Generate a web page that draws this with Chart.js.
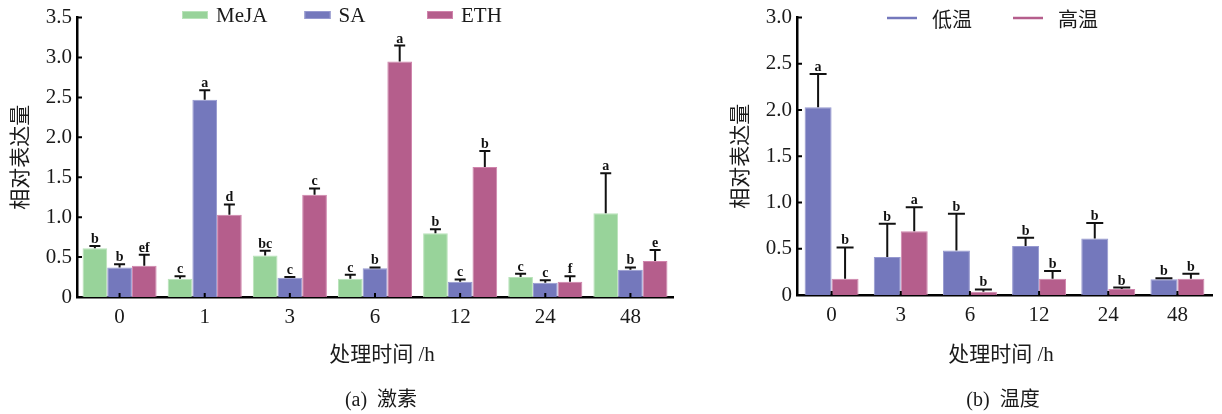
<!DOCTYPE html>
<html>
<head>
<meta charset="utf-8">
<script src="https://cdn.jsdelivr.net/npm/chart.js@4.4.1/dist/chart.umd.min.js"></script>
<style>
  body { margin: 0; background: #fff; width: 1222px; height: 414px; position: relative; overflow: hidden; }
  .panel { position: absolute; top: 0; height: 414px; }
  .txt { position: absolute; transform: translateX(-50%); white-space: pre; color: #1a1a1a;
         font-family: "Liberation Serif", "Noto Sans CJK SC", serif; font-size: 20px; line-height: 1; }
  .txt .cjk { font-family: "Noto Sans CJK SC", sans-serif; }
  .xt { font-size: 21px; top: 342px; }
  .sub { top: 388px; }
</style>
</head>
<body>
<div class="panel" style="left:0;width:700px"><canvas id="hormone"></canvas></div>
<div class="panel" style="left:720px;width:502px"><canvas id="temperature"></canvas></div>

<div class="txt xt" style="left:382px"><span class="cjk">处理时间</span> /h</div>
<div class="txt sub" style="left:381px">(a)  <span class="cjk">激素</span></div>
<div class="txt xt" style="left:1001px"><span class="cjk">处理时间</span> /h</div>
<div class="txt sub" style="left:1003px">(b)  <span class="cjk">温度</span></div>

<script>
// (a) 激素处理
const hormoneHours = ['0', '1', '3', '6', '12', '24', '48'];
const mejaMean = [0.61, 0.23, 0.52, 0.23, 0.80, 0.25, 1.05];
const mejaErr  = [0.03, 0.03, 0.06, 0.05, 0.05, 0.04, 0.50];
const mejaSig  = ['b', 'c', 'bc', 'c', 'b', 'c', 'a'];
const saMean = [0.37, 2.47, 0.24, 0.36, 0.19, 0.18, 0.34];
const saErr  = [0.04, 0.12, 0.01, 0.01, 0.03, 0.03, 0.03];
const saSig  = ['b', 'a', 'c', 'b', 'c', 'c', 'b'];
const ethMean = [0.39, 1.03, 1.28, 2.95, 1.63, 0.19, 0.45];
const ethErr  = [0.14, 0.13, 0.08, 0.20, 0.20, 0.07, 0.14];
const ethSig  = ['ef', 'd', 'c', 'a', 'b', 'f', 'e'];

// (b) 温度处理
const tempHours = ['0', '3', '6', '12', '24', '48'];
const lowMean = [2.03, 0.41, 0.48, 0.53, 0.61, 0.17];
const lowErr  = [0.36, 0.36, 0.40, 0.09, 0.17, 0.01];
const lowSig  = ['a', 'b', 'b', 'b', 'b', 'b'];
const highMean = [0.175, 0.69, 0.035, 0.175, 0.065, 0.175];
const highErr  = [0.34, 0.26, 0.025, 0.085, 0.015, 0.055];
const highSig  = ['b', 'a', 'b', 'b', 'b', 'b'];

const GREEN = '#98d39a', BLUE = '#7478bc', PINK = '#b55e8c';
const SERIF = '"Liberation Serif", "Times New Roman", serif';
const CJK = '"Noto Sans CJK SC", sans-serif';

// 误差线（仅上半）+ 显著性字母
const errorBars = {
  id: 'errorBars',
  afterDatasetsDraw(chart, args, opts) {
    const { ctx } = chart;
    const y = chart.scales.y;
    ctx.save();
    chart.data.datasets.forEach((ds, i) => {
      const meta = chart.getDatasetMeta(i);
      meta.data.forEach((bar, j) => {
        const top = y.getPixelForValue(ds.data[j] + ds.errors[j]);
        ctx.strokeStyle = '#111';
        ctx.lineWidth = 2;
        ctx.beginPath();
        ctx.moveTo(bar.x, bar.y);
        ctx.lineTo(bar.x, top);
        ctx.moveTo(bar.x - opts.cap / 2, top);
        ctx.lineTo(bar.x + opts.cap / 2, top);
        ctx.stroke();
        ctx.fillStyle = '#111';
        ctx.font = 'bold 14px ' + SERIF;
        ctx.textAlign = 'center';
        ctx.textBaseline = 'alphabetic';
        ctx.fillText(ds.letters[j], bar.x, top - 3);
      });
    });
    ctx.restore();
  }
};

// 刻度线朝内
const innerTicks = {
  id: 'innerTicks',
  afterDraw(chart) {
    const { ctx } = chart;
    const { x, y } = chart.scales;
    ctx.save();
    ctx.strokeStyle = '#000';
    ctx.lineWidth = 2;
    ctx.beginPath();
    y.ticks.forEach(t => {
      const py = y.getPixelForValue(t.value);
      ctx.moveTo(y.right, py);
      ctx.lineTo(y.right + 5, py);
    });
    x.ticks.forEach((t, i) => {
      const px = x.getPixelForTick(i);
      ctx.moveTo(px, x.top);
      ctx.lineTo(px, x.top - 4);
    });
    ctx.stroke();
    ctx.restore();
  }
};

// 图例画在绘图区上方
const topLegend = {
  id: 'topLegend',
  afterDraw(chart, args, opts) {
    const { ctx } = chart;
    ctx.save();
    chart.data.datasets.forEach((ds, i) => {
      const x0 = opts.x + i * opts.step;
      if (opts.kind === 'box') {
        ctx.fillStyle = ds.backgroundColor;
        ctx.fillRect(x0, opts.y - 4, 26, 8);
        ctx.strokeStyle = ds.borderColor;
        ctx.lineWidth = 1;
        ctx.strokeRect(x0 + 0.5, opts.y - 3.5, 25, 7);
      } else {
        ctx.strokeStyle = ds.backgroundColor;
        ctx.lineWidth = 2.5;
        ctx.beginPath();
        ctx.moveTo(x0, opts.y);
        ctx.lineTo(x0 + 30, opts.y);
        ctx.stroke();
      }
      ctx.fillStyle = '#1a1a1a';
      ctx.font = opts.font;
      ctx.textBaseline = 'middle';
      ctx.textAlign = 'left';
      ctx.fillText(ds.label, x0 + opts.gap, opts.y + 1);
    });
    ctx.restore();
  }
};

function makeChart(id, cfg) {
  return new Chart(document.getElementById(id), {
    type: 'bar',
    data: { labels: cfg.labels, datasets: cfg.datasets },
    options: {
      responsive: true,
      maintainAspectRatio: false,
      animation: false,
      events: [],
      layout: { padding: { top: cfg.top, right: cfg.right, left: 0, bottom: 0 } },
      datasets: { bar: { barPercentage: 1, categoryPercentage: cfg.catPct, borderWidth: 1 } },
      plugins: {
        legend: { display: false },
        tooltip: { enabled: false },
        errorBars: { cap: cfg.cap },
        topLegend: cfg.legend
      },
      scales: {
        x: {
          offset: true,
          grid: { display: false, drawTicks: false, tickLength: 0 },
          border: { color: '#000', width: 2.5 },
          ticks: { color: '#1a1a1a', padding: 8, font: { family: SERIF, size: 21 } },
          afterFit: s => { s.height = cfg.xHeight; }
        },
        y: {
          min: 0, max: cfg.yMax,
          grid: { display: false, drawTicks: false, tickLength: 0 },
          border: { color: '#000', width: 2.5 },
          ticks: {
            stepSize: 0.5, padding: 5, color: '#1a1a1a',
            font: { family: SERIF, size: 21 },
            callback: v => v === 0 ? '0' : v.toFixed(1)
          },
          title: {
            display: true, text: '相对表达量', color: '#1a1a1a',
            font: { family: CJK, size: 21 }, padding: { top: 6, bottom: 0 }
          },
          afterFit: s => { s.width = 77; }
        }
      }
    },
    plugins: [errorBars, innerTicks, topLegend]
  });
}

makeChart('hormone', {
  labels: hormoneHours,
  yMax: 3.5, top: 13, right: 27, xHeight: 117, catPct: 0.87, cap: 11,
  legend: { kind: 'box', x: 182, y: 15, step: 122.5, gap: 34, font: '21px ' + SERIF },
  datasets: [
    { label: 'MeJA', data: mejaMean, errors: mejaErr, letters: mejaSig, backgroundColor: GREEN, borderColor: '#b9e3ba' },
    { label: 'SA', data: saMean, errors: saErr, letters: saSig, backgroundColor: BLUE, borderColor: '#9699d0' },
    { label: 'ETH', data: ethMean, errors: ethErr, letters: ethSig, backgroundColor: PINK, borderColor: '#d084ac' }
  ]
});

makeChart('temperature', {
  labels: tempHours,
  yMax: 3.0, top: 16, right: 10, xHeight: 119, catPct: 0.78, cap: 17,
  legend: { kind: 'line', x: 167, y: 18, step: 126, gap: 45, font: '20px ' + CJK },
  datasets: [
    { label: '低温', data: lowMean, errors: lowErr, letters: lowSig, backgroundColor: BLUE, borderColor: '#9699d0' },
    { label: '高温', data: highMean, errors: highErr, letters: highSig, backgroundColor: PINK, borderColor: '#d084ac' }
  ]
});
</script>
</body>
</html>
